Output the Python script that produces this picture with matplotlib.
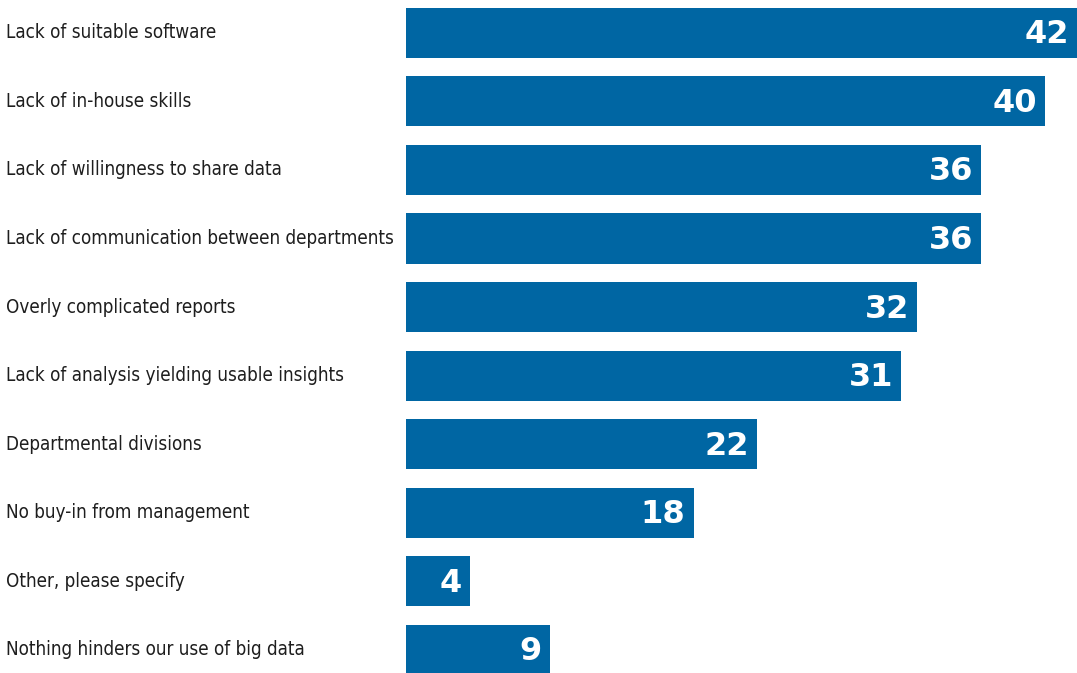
import matplotlib.pyplot as plt
from matplotlib import font_manager

# Survey answers: what hinders use of big data
categories = [
    "Lack of suitable software",
    "Lack of in-house skills",
    "Lack of willingness to share data",
    "Lack of communication between departments",
    "Overly complicated reports",
    "Lack of analysis yielding usable insights",
    "Departmental divisions",
    "No buy-in from management",
    "Other, please specify",
    "Nothing hinders our use of big data",
]
values = [42, 40, 36, 36, 32, 31, 22, 18, 4, 9]

bar_color = "#0066a3"

# look for a narrow regular face for the category names
label_prop = font_manager.FontProperties(family="DejaVu Sans")
for f in font_manager.fontManager.ttflist:
    if f.style == "normal" and f.weight in (400, "normal", "regular") and (
        "Narrow" in f.name or "Condensed" in f.fname or f.stretch == "condensed"
    ):
        label_prop = font_manager.FontProperties(fname=f.fname)
        break

fig = plt.figure(figsize=(10.77, 6.73), dpi=100)
ax = fig.add_axes([406 / 1077, 0, 671 / 1077, 1])

y = list(range(len(categories)))
ax.barh(y, values, height=0.73, color=bar_color)
ax.set_xlim(0, 42)
ax.set_ylim(9.34, -0.48)
ax.axis("off")

# value labels inside the bar ends
for yi, v in zip(y, values):
    ax.annotate(str(v), xy=(v, yi), xytext=(-8, -2), textcoords="offset pixels",
                ha="right", va="center", color="white", fontsize=23,
                fontweight="heavy", family="DejaVu Sans")

# category labels on the left side of the figure
for yi, name in zip(y, categories):
    ax.annotate(name, xy=(0, yi), xycoords=("figure pixels", "data"),
                xytext=(6, 0), textcoords="offset pixels",
                ha="left", va="center", color="#1e1e1e", fontsize=13.5,
                fontproperties=label_prop)

fig.savefig("out.png", dpi=100)
